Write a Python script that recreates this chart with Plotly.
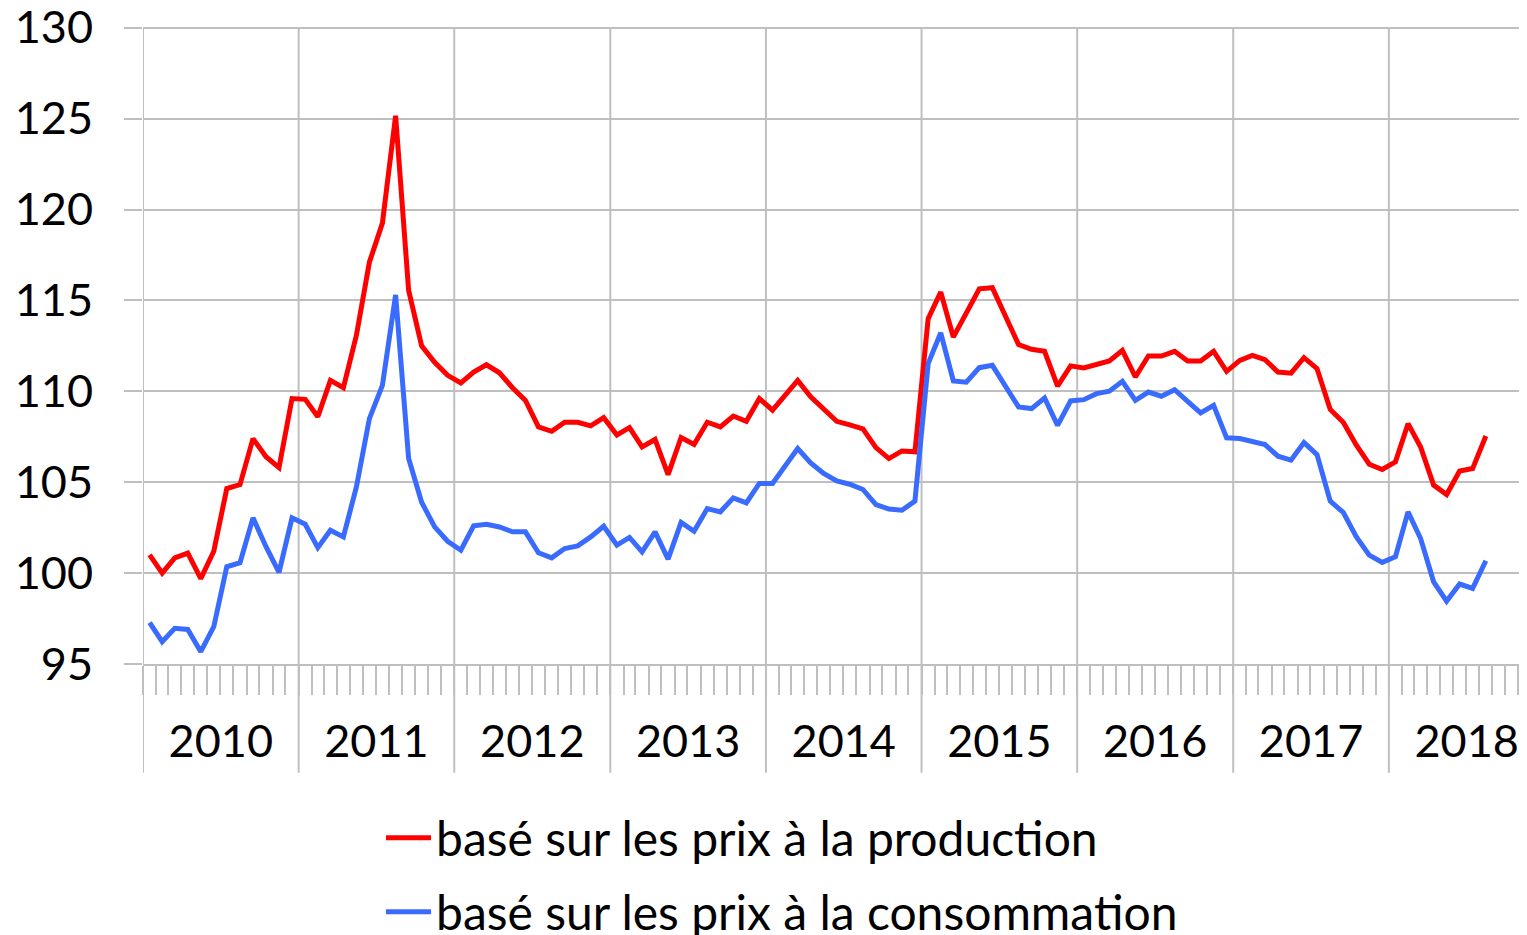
import pandas as pd
import plotly.graph_objects as go

# ---- data ----
start_month = "2010-01-01"
n_months = 104
years = [2010, 2011, 2012, 2013, 2014, 2015, 2016, 2017, 2018]

prod = [
    # 2010
    101.0, 100.0, 100.84, 101.1, 99.7, 101.2, 104.65, 104.87, 107.4, 106.4, 105.8, 109.6,
    # 2011
    109.56, 108.6, 110.6, 110.2, 113.08, 117.1, 119.25, 125.16, 115.55, 112.5, 111.6, 110.88,
    # 2012
    110.46, 111.06, 111.46, 111.02, 110.2, 109.5, 108.04, 107.8, 108.3, 108.3, 108.1, 108.55,
    # 2013
    107.6, 108.0, 106.94, 107.35, 105.42, 107.46, 107.08, 108.3, 108.04, 108.64, 108.35, 109.6,
    # 2014
    108.96, 109.78, 110.6, 109.7, 109.03, 108.35, 108.15, 107.93, 106.9, 106.3, 106.72, 106.67,
    # 2015
    113.99, 115.46, 112.98, 114.27, 115.64, 115.7, 114.08, 112.57, 112.31, 112.2, 110.28, 111.4,
    # 2016
    111.29, 111.5, 111.67, 112.25, 110.79, 111.94, 111.94, 112.2, 111.67, 111.67, 112.2, 111.1,
    # 2017
    111.7, 111.98, 111.74, 111.06, 111.0, 111.85, 111.25, 109.0, 108.3, 107.05, 105.99, 105.7,
    # 2018
    106.12, 108.22, 106.94, 104.84, 104.32, 105.62, 105.75, 107.54,
]

cons = [
    # 2010
    97.27, 96.23, 96.96, 96.9, 95.68, 97.05, 100.35, 100.57, 103.04, 101.45, 100.04, 103.04,
    # 2011
    102.69, 101.4, 102.36, 101.99, 104.74, 108.5, 110.33, 115.3, 106.3, 103.9, 102.54, 101.75,
    # 2012
    101.26, 102.6, 102.69, 102.54, 102.27, 102.27, 101.12, 100.84, 101.35, 101.5, 101.99, 102.58,
    # 2013
    101.54, 101.96, 101.17, 102.27, 100.77, 102.79, 102.3, 103.55, 103.37, 104.14, 103.86, 104.93,
    # 2014
    104.93, 105.9, 106.85, 106.06, 105.48, 105.07, 104.89, 104.6, 103.77, 103.52, 103.46, 103.96,
    # 2015
    111.52, 113.22, 110.57, 110.5, 111.3, 111.43, 110.33, 109.14, 109.05, 109.63, 108.13, 109.47,
    # 2016
    109.54, 109.87, 110.01, 110.55, 109.5, 109.96, 109.73, 110.09, 109.45, 108.81, 109.23, 107.44,
    # 2017
    107.4, 107.22, 107.07, 106.43, 106.21, 107.18, 106.52, 103.96, 103.34, 102.0, 100.99, 100.59,
    # 2018
    100.9, 103.37, 101.9, 99.52, 98.46, 99.4, 99.16, 100.68,
]

name_prod = "basé sur les prix à la production"
name_cons = "basé sur les prix à la consommation"
y_min, y_max, y_step = 95, 130, 5

# ---- positions: centre of each month (category axis style) ----
months = pd.date_range(start_month, periods=n_months, freq="MS")
x = months + pd.to_timedelta(months.days_in_month / 2, unit="D")

FONT = "Lato"
GRID = "#BFBFBF"
W, H = 1519, 927  # page body adds an 8px margin

fig = go.Figure()
fig.add_trace(go.Scatter(x=x, y=prod, mode="lines", name=name_prod,
                         line=dict(color="#FF0000", width=5), legend="legend"))
fig.add_trace(go.Scatter(x=x, y=cons, mode="lines", name=name_cons,
                         line=dict(color="#3A6BFF", width=5), legend="legend2"))

# year separators, running down through the label band
for yr in years:
    fig.add_shape(type="line", xref="x", yref="paper",
                  x0=f"{yr}-01-01", x1=f"{yr}-01-01", y0=-0.17, y1=0.996,
                  line=dict(color=GRID, width=2), layer="below")

fig.update_layout(
    width=W, height=H,
    margin=dict(l=135, r=0, t=17, b=271, autoexpand=False),
    paper_bgcolor="white", plot_bgcolor="white",
    font=dict(family=FONT, size=45, color="#000000"),
    showlegend=True,
    legend=dict(xref="container", yref="container", x=373 / W, y=1 - 830 / H,
                xanchor="left", yanchor="middle",
                bgcolor="rgba(0,0,0,0)", font=dict(size=48, family=FONT),
                itemwidth=45),
    legend2=dict(xref="container", yref="container", x=373 / W, y=1 - 904 / H,
                 xanchor="left", yanchor="middle",
                 bgcolor="rgba(0,0,0,0)", font=dict(size=48, family=FONT),
                 itemwidth=45),
)

fig.update_xaxes(
    type="date", automargin=False,
    range=["2010-01-01", "2018-11-21"],
    tick0="2010-01-01", dtick="M12",
    tickformat="%Y", ticklabelmode="period",
    ticklabeloverflow="allow",
    showgrid=False,
    ticks="outside", ticklen=29, tickwidth=2, tickcolor=GRID,
    minor=dict(dtick="M1", ticks="outside", ticklen=29, tickwidth=2,
               tickcolor=GRID, showgrid=False),
    showline=True, linecolor=GRID, linewidth=2,
    tickfont=dict(size=45, family=FONT, color="#000000"),
    ticklabelstandoff=8,
    zeroline=False,
)

fig.update_yaxes(
    automargin=False,
    range=[y_min, y_max + 0.15],
    tick0=y_min, dtick=y_step,
    ticklabeloverflow="allow",
    showgrid=True, gridcolor=GRID, gridwidth=2,
    ticks="outside", ticklen=18, tickwidth=2, tickcolor=GRID,
    tickfont=dict(size=45, family=FONT, color="#000000"),
    ticklabelstandoff=22,
    zeroline=False, showline=False,
)

fig.write_html("out.html")
